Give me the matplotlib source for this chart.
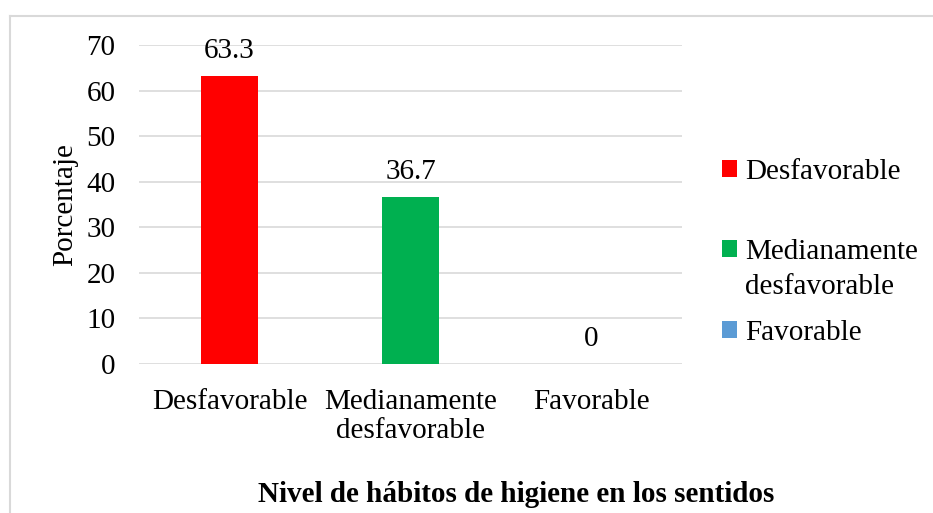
import matplotlib
matplotlib.use("Agg")
import matplotlib.pyplot as plt
from matplotlib.lines import Line2D

plt.rcParams['font.family'] = ['Liberation Serif', 'DejaVu Serif']

categories = ["Desfavorable", "Medianamente\ndesfavorable", "Favorable"]
values = [63.3, 36.7, 0]
colors = ["#ff0000", "#00b050", "#5b9bd5"]
value_labels = ["63.3", "36.7", "0"]
yticks = [0, 10, 20, 30, 40, 50, 60, 70]

FS = 21

fig = plt.figure(figsize=(9.33, 5.13), dpi=100)
ax = fig.add_axes([0.149, 0.2904, 0.582, 0.6219])

bars = []
for i, (c, v, col) in enumerate(zip(categories, values, colors)):
    b = ax.bar(i, v, width=0.315, color=col, label=c, zorder=3)
    bars.append(b)
    ax.text(i, v + 2.6, value_labels[i], ha='center', va='bottom', fontsize=FS)

ax.set_xlim(-0.5, 2.5)
ax.set_ylim(0, 70)
ax.set_yticks(yticks)
ax.set_yticklabels([str(t) for t in yticks], fontsize=FS)
ax.set_xticks(range(3))
ax.set_xticklabels(categories, fontsize=FS, linespacing=1.15)
ax.tick_params(axis='both', length=0)
ax.tick_params(axis='y', pad=17)
ax.tick_params(axis='x', pad=18)
ax.grid(axis='y', color='#d9d9d9', linewidth=1.2, zorder=0)
for s in ax.spines.values():
    s.set_visible(False)

ax.set_ylabel("Porcentaje", fontsize=FS)
ax.yaxis.set_label_coords(-0.112, 0.5)

fig.text(0.553, 0.036, "Nivel de hábitos de higiene en los sentidos",
         ha='center', va='center', fontsize=21, fontweight='bold')

# legends
leg_labels = ["Desfavorable", "Medianamente", "Favorable"]
ypos = [172, 252, 333]
for b, c, yp in zip(bars, leg_labels, ypos):
    fig.legend(handles=[b], labels=[c], loc='center left',
               bbox_to_anchor=(0.774, 1 - yp / 513), frameon=False,
               fontsize=FS, handlelength=0.5, handleheight=0.5,
               handletextpad=0.3, borderpad=0, borderaxespad=0)
fig.text(0.7985, 1 - 287 / 513, "desfavorable", ha='left', va='center', fontsize=FS)

# outer chart border
fig.add_artist(Line2D([10 / 933, 10 / 933], [0, 1 - 16 / 513], color='#d9d9d9', linewidth=1.5, transform=fig.transFigure))
fig.add_artist(Line2D([10 / 933, 1], [1 - 16 / 513, 1 - 16 / 513], color='#d9d9d9', linewidth=1.5, transform=fig.transFigure))

fig.savefig("out.png", dpi=100)
